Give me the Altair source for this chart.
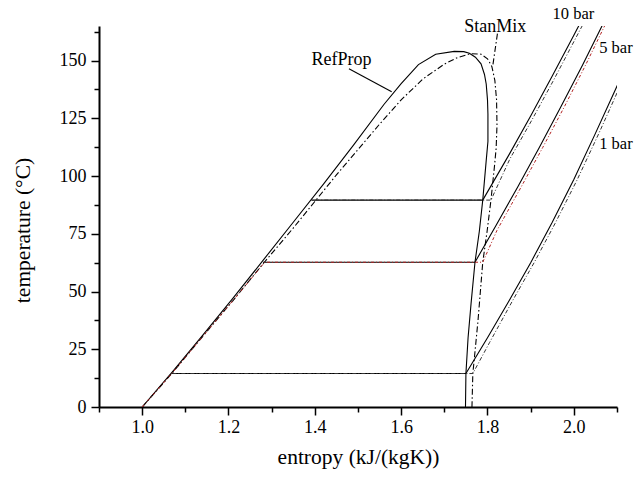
import altair as alt
import pandas as pd

# ---------------- data ----------------
ref_dome_s = [1.000, 1.070, 1.140, 1.210, 1.280, 1.350, 1.420, 1.490, 1.560, 1.600, 1.640,
              1.680, 1.723, 1.745, 1.758, 1.772, 1.785, 1.793, 1.797, 1.800,
              1.801, 1.801, 1.797, 1.789, 1.781, 1.771, 1.762, 1.755, 1.750, 1.749]
ref_dome_T = [0, 15.2, 31, 47, 63.5, 80, 96.5, 113.5, 131, 140, 148.3,
              152.8, 154.0, 153.9, 153.2, 151.5, 148.6, 144.0, 139.9, 133,
              126.9, 115, 106.7, 89.6, 76, 62.7, 45, 30, 14.5, 0]

stan_dome_s = [1.000, 1.070, 1.140, 1.210, 1.280, 1.350, 1.400, 1.450, 1.500, 1.550, 1.600,
               1.650, 1.700, 1.730, 1.760, 1.785, 1.800, 1.810, 1.817, 1.821, 1.822, 1.820,
               1.816, 1.808, 1.799, 1.789, 1.778, 1.770, 1.766, 1.764]
stan_dome_T = [0, 14.8, 30.5, 46, 62, 77.5, 89, 100.5, 111.5, 122.5, 133,
               142, 148.5, 151.3, 153, 152.8, 150.8, 147.5, 141.5, 133, 122, 112,
               104, 89.6, 76, 62.7, 37.4, 22, 14.5, 0]

ref_1bar_s = [1.068, 1.750, 1.80, 1.85, 1.90, 1.95, 2.00, 2.05, 2.105]
ref_1bar_T = [14.5, 14.5, 30, 46, 62.5, 80, 98.5, 118.5, 141]
stan_1bar_s = [1.070, 1.766, 1.805, 1.858, 1.908, 1.958, 2.008, 2.058, 2.112]
stan_1bar_T = [14.5, 14.5, 28, 46, 62.5, 80, 98.5, 118.5, 141]

ref_5bar_s = [1.280, 1.771, 1.82, 1.87, 1.92, 1.97, 2.02, 2.066]
ref_5bar_T = [62.7, 62.7, 78.7, 95.3, 112.4, 130, 148, 165.3]
stan_5bar_s = [1.000, 1.070, 1.140, 1.210, 1.284, 1.789, 1.822, 1.878, 1.928, 1.978, 2.027, 2.072]
stan_5bar_T = [0, 14.8, 30.5, 46, 62.7, 62.7, 76.5, 95.3, 112.4, 130, 148, 165.3]

ref_10bar_s = [1.392, 1.789, 1.85, 1.90, 1.95, 2.00, 2.012]
ref_10bar_T = [89.6, 89.6, 109.3, 126, 143.3, 161, 165.3]
stan_10bar_s = [1.401, 1.808, 1.852, 1.902, 1.953, 2.020]
stan_10bar_T = [89.6, 89.6, 107.5, 124, 141.5, 165.3]

ref_leader_s = [1.479, 1.578]
ref_leader_T = [146.5, 136.5]
stan_leader_s = [1.823, 1.812]
stan_leader_T = [161.7, 147.5]

name_text = ["RefProp", "StanMix"]
name_s = [1.462, 1.818]
name_T = [150.1, 164.4]

bar_text = ["10 bar", "5 bar", "1 bar"]
bar_s = [1.999, 2.0975, 2.0975]
bar_T = [170.1, 155.3, 113.7]

x_ticks = [0.9, 1.0, 1.1, 1.2, 1.3, 1.4, 1.5, 1.6, 1.7, 1.8, 1.9, 2.0, 2.1]
y_ticks = [0, 12.5, 25, 37.5, 50, 62.5, 75, 87.5, 100, 112.5, 125, 137.5, 150, 162.5]


def frame(name, s, T):
    return pd.DataFrame({"series": name, "s": s, "T": T, "order": range(len(s))})


solid_df = pd.concat([
    frame("ref_dome", ref_dome_s, ref_dome_T),
    frame("ref_1", ref_1bar_s, ref_1bar_T),
    frame("ref_5", ref_5bar_s, ref_5bar_T),
    frame("ref_10", ref_10bar_s, ref_10bar_T),
    frame("ref_leader", ref_leader_s, ref_leader_T),
])
stan_dome_df = pd.concat([
    frame("stan_dome", stan_dome_s, stan_dome_T),
    frame("stan_leader", stan_leader_s, stan_leader_T),
])
stan_iso_df = pd.concat([
    frame("stan_1", stan_1bar_s, stan_1bar_T),
    frame("stan_10", stan_10bar_s, stan_10bar_T),
])
stan_red_df = frame("stan_5", stan_5bar_s, stan_5bar_T)
names_df = pd.DataFrame({"label": name_text, "s": name_s, "T": name_T})
bars_df = pd.DataFrame({"label": bar_text, "s": bar_s, "T": bar_T})

FONT = "Liberation Serif"
major_x = "abs(datum.value*5 - round(datum.value*5)) < 0.001"
major_y = "datum.value % 25 == 0"

x_enc = alt.X(
    "s:Q",
    scale=alt.Scale(domain=[0.9, 2.1], nice=False, zero=False),
    axis=alt.Axis(
        values=x_ticks,
        labelExpr=f"{major_x} ? format(datum.value, '.1f') : ''",
        tickSize={"condition": {"test": major_x, "value": 8}, "value": 5},
        tickWidth=1.5, tickColor="black",
        domainWidth=2, domainColor="black",
        labelFont=FONT, labelFontSize=18, labelColor="black", labelPadding=3,
        labelOverlap=False, labelFlush=False, labelBound=False,
        grid=False,
        title="entropy (kJ/(kgK))", titleFont=FONT, titleFontSize=21.5,
        titleFontWeight="normal", titleColor="black", titlePadding=10,
    ),
)
y_enc = alt.Y(
    "T:Q",
    scale=alt.Scale(domain=[0, 165], nice=False, zero=False),
    axis=alt.Axis(
        values=y_ticks,
        labelExpr=f"{major_y} ? format(datum.value, 'd') : ''",
        tickSize={"condition": {"test": major_y, "value": 8}, "value": 5},
        tickWidth=1.5, tickColor="black",
        domainWidth=2, domainColor="black",
        labelFont=FONT, labelFontSize=18, labelColor="black", labelPadding=5,
        labelOverlap=False, labelFlush=False, labelBound=False,
        grid=False,
        title="temperature (°C)", titleFont=FONT, titleFontSize=21.5,
        titleFontWeight="normal", titleColor="black",
        titleX=-76, titleY=204, titleBaseline="middle", titleAlign="center", titleAngle=270,
    ),
)

solid = alt.Chart(solid_df).mark_line(color="black", strokeWidth=1.1, clip=True).encode(
    x=x_enc, y=y_enc, detail="series:N", order="order:Q")
stan_dome = alt.Chart(stan_dome_df).mark_line(
    color="black", strokeWidth=1.1, strokeDash=[6, 2.5, 1.5, 2.5], clip=True).encode(
    x=x_enc, y=y_enc, detail="series:N", order="order:Q")
stan_iso = alt.Chart(stan_iso_df).mark_line(
    color="#333333", strokeWidth=1.0, strokeDash=[4, 2, 1, 2], clip=True).encode(
    x=x_enc, y=y_enc, detail="series:N", order="order:Q")
stan_red = alt.Chart(stan_red_df).mark_line(
    color="#b22222", strokeWidth=1.0, strokeDash=[3, 2, 1, 2], clip=True).encode(
    x=x_enc, y=y_enc, detail="series:N", order="order:Q")
names = alt.Chart(names_df).mark_text(
    font=FONT, fontSize=18, color="black", align="center", baseline="middle").encode(
    x=x_enc, y=y_enc, text="label:N")
bars = alt.Chart(bars_df).mark_text(
    font=FONT, fontSize=16.5, color="black", align="center", baseline="middle").encode(
    x=x_enc, y=y_enc, text="label:N")

chart = alt.layer(solid, stan_dome, stan_iso, stan_red, names, bars).properties(
    width=518, height=381,
    autosize=alt.AutoSizeParams(type="none"),
    padding={"left": 99, "top": 26, "right": 17, "bottom": 72},
    background="white",
).configure_view(strokeWidth=0)

chart.save("out.html", embed_options={"renderer": "svg", "actions": False})
